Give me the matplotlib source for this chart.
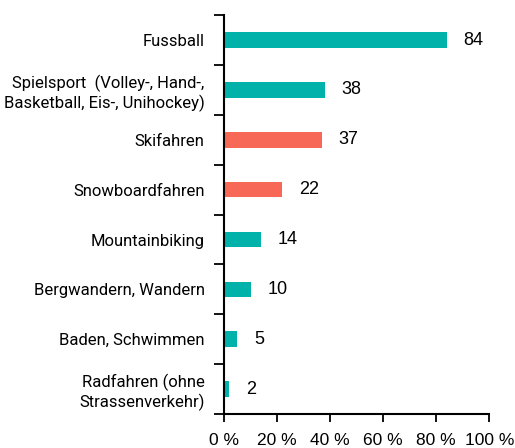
import matplotlib.pyplot as plt
import numpy as np

plt.rcParams['font.family'] = ['Roboto', 'DejaVu Sans']

categories = [
    "Fussball",
    "Spielsport  (Volley-, Hand-,\nBasketball, Eis-, Unihockey)",
    "Skifahren",
    "Snowboardfahren",
    "Mountainbiking",
    "Bergwandern, Wandern",
    "Baden, Schwimmen",
    "Radfahren (ohne\nStrassenverkehr)",
]
values = [84, 38, 37, 22, 14, 10, 5, 2]
highlight = [False, False, True, True, False, False, False, False]
xticks = [0, 20, 40, 60, 80, 100]

teal = "#00B2A9"
red = "#F76856"
num_font = ['Liberation Sans', 'DejaVu Sans']

fig = plt.figure(figsize=(5.15, 4.48), dpi=100)
ax = fig.add_axes([0.435, 0.076, 0.515, 0.89])

y = np.arange(len(categories))
colors = [red if h else teal for h in highlight]
ax.barh(y, values, height=0.31, color=colors)

# value labels right of each bar
for yi, v in zip(y, values):
    ax.annotate(str(v), (v, yi), xytext=(12, 0), textcoords='offset points',
                va='center', ha='left', fontsize=13, family=num_font)

ax.set_ylim(len(categories) - 0.5, -0.5)
ax.set_xlim(0, 100)
ax.set_yticks(y)
ax.set_yticklabels(categories, fontsize=12, linespacing=1.2)
ax.set_yticks(np.arange(-0.5, len(categories)), minor=True)
ax.tick_params(axis='y', which='major', length=0, pad=14)
ax.tick_params(axis='y', which='minor', length=7, width=1.3)

ax.set_xticks(xticks)
ax.set_xticklabels([f"{t} %" for t in xticks], fontsize=12.5, family=num_font)
ax.tick_params(axis='x', length=6, width=1.3, pad=7.5)

for s in ['top', 'right']:
    ax.spines[s].set_visible(False)
ax.spines['left'].set_linewidth(1.5)
ax.spines['bottom'].set_linewidth(1.5)

fig.savefig("out.png", dpi=100)
